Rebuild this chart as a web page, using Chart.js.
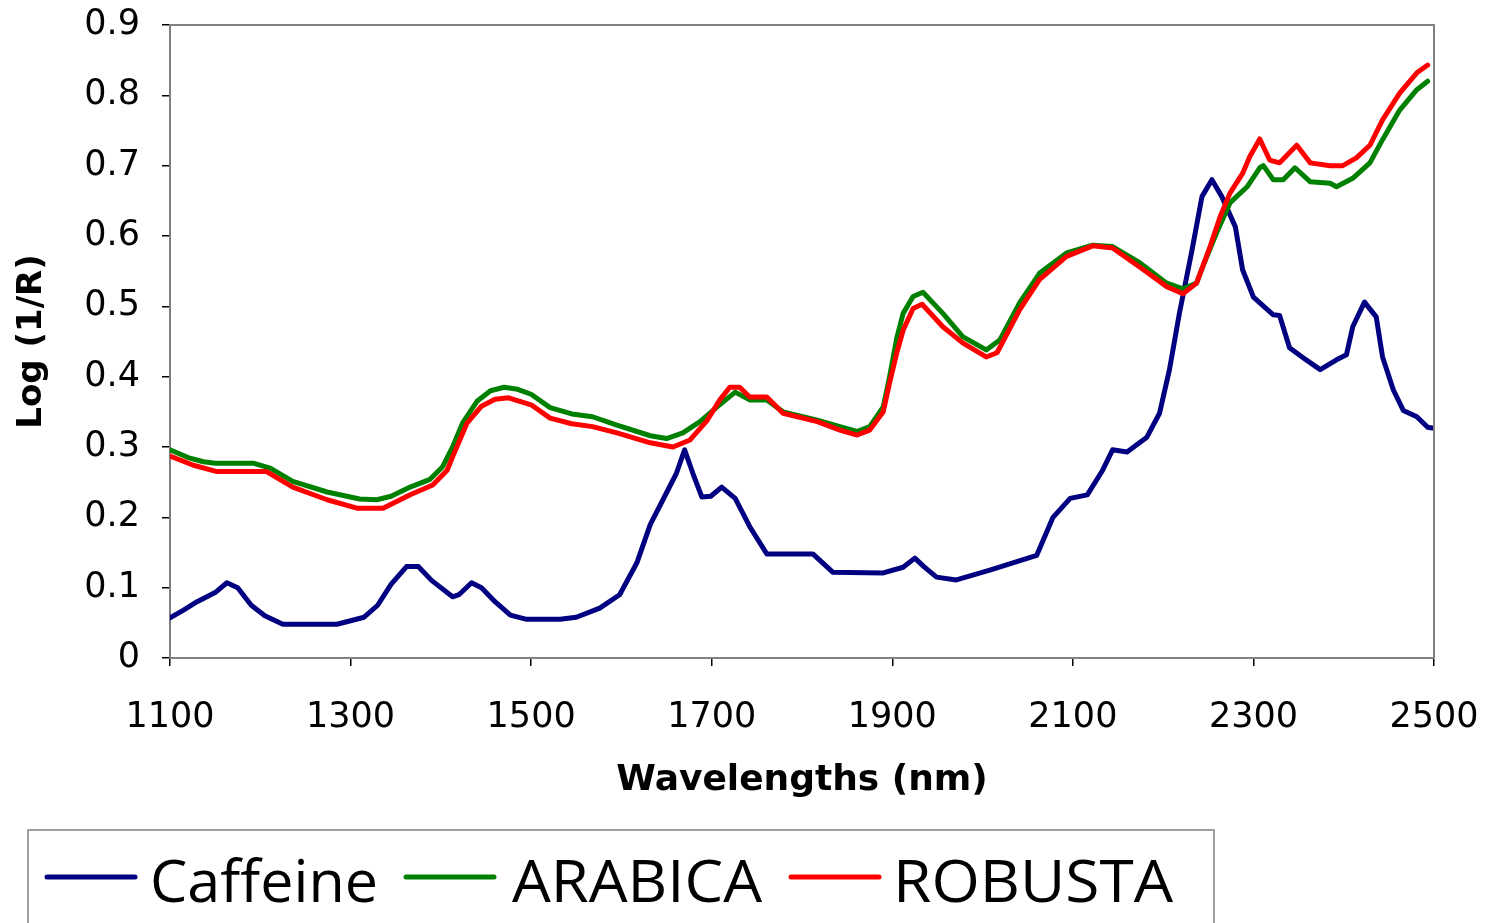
<!DOCTYPE html>
<html>
<head>
<meta charset="utf-8">
<script src="https://cdn.jsdelivr.net/npm/chart.js@4/dist/chart.umd.min.js"></script>
<style>
html,body{margin:0;padding:0;background:#fff;}
#wrap{position:relative;width:1491px;height:923px;}
</style>
</head>
<body>
<div id="wrap"><canvas id="c" width="1491" height="923"></canvas></div>
<script>
// ---- Data ----
const seriesNames = ["Caffeine", "ARABICA", "ROBUSTA"];
const xTickLabels = ["1100","1300","1500","1700","1900","2100","2300","2500"];
const yTickLabels = ["0","0.1","0.2","0.3","0.4","0.5","0.6","0.7","0.8","0.9"];

const caffeineWl = [1100,1115,1130,1150,1163,1175,1190,1205,1225,1285,1300,1315,1330,1345,1362,1375,1390,1413,1420,1434,1445,1460,1477,1495,1532,1550,1576,1598,1617,1632,1646,1661,1670,1679,1689,1699,1711,1726,1742,1761,1812,1834,1890,1912,1925,1935,1949,1971,2008,2038,2060,2078,2097,2116,2133,2144,2160,2182,2196,2207,2218,2232,2243,2254,2265,2280,2288,2300,2322,2329,2340,2355,2374,2392,2403,2410,2423,2436,2443,2455,2466,2481,2493,2498];
const caffeineVal = [0.057,0.068,0.080,0.093,0.107,0.100,0.075,0.060,0.048,0.048,0.053,0.058,0.075,0.105,0.130,0.130,0.110,0.087,0.090,0.107,0.100,0.080,0.061,0.055,0.055,0.058,0.071,0.090,0.135,0.190,0.225,0.263,0.296,0.263,0.229,0.230,0.243,0.227,0.187,0.148,0.148,0.122,0.121,0.129,0.142,0.130,0.115,0.111,0.125,0.137,0.146,0.200,0.227,0.232,0.267,0.296,0.293,0.314,0.348,0.410,0.490,0.580,0.656,0.680,0.656,0.613,0.552,0.513,0.488,0.487,0.441,0.427,0.410,0.424,0.431,0.471,0.506,0.485,0.428,0.381,0.352,0.343,0.328,0.327];

const arabicaWl = [1100,1120,1137,1150,1192,1211,1236,1274,1310,1329,1345,1366,1388,1402,1413,1424,1440,1455,1470,1485,1500,1521,1545,1568,1595,1632,1650,1668,1687,1706,1726,1742,1761,1779,1817,1842,1861,1875,1890,1897,1905,1912,1923,1934,1956,1978,2004,2019,2041,2063,2093,2122,2144,2174,2204,2222,2237,2245,2259,2274,2293,2307,2311,2322,2333,2346,2363,2385,2392,2410,2429,2443,2462,2481,2493];
const arabicaVal = [0.296,0.285,0.279,0.277,0.277,0.270,0.251,0.236,0.226,0.225,0.230,0.243,0.254,0.272,0.300,0.334,0.365,0.380,0.385,0.382,0.375,0.356,0.347,0.343,0.331,0.316,0.312,0.320,0.336,0.357,0.378,0.367,0.367,0.350,0.338,0.329,0.322,0.329,0.357,0.400,0.455,0.490,0.514,0.520,0.490,0.457,0.438,0.452,0.505,0.547,0.576,0.587,0.585,0.562,0.533,0.525,0.533,0.560,0.604,0.647,0.670,0.697,0.700,0.680,0.680,0.697,0.677,0.675,0.670,0.682,0.704,0.737,0.779,0.808,0.820];

const robustaWl = [1100,1126,1152,1207,1236,1274,1307,1336,1366,1391,1407,1413,1429,1445,1460,1475,1500,1521,1545,1568,1595,1632,1657,1676,1695,1709,1720,1731,1742,1761,1779,1817,1842,1861,1875,1890,1897,1905,1912,1923,1933,1956,1978,2004,2016,2041,2063,2093,2122,2144,2174,2204,2222,2237,2252,2263,2274,2288,2296,2307,2318,2329,2348,2363,2385,2399,2414,2429,2443,2462,2481,2493];
const robustaVal = [0.287,0.274,0.265,0.265,0.243,0.225,0.213,0.213,0.232,0.246,0.267,0.286,0.334,0.358,0.368,0.370,0.360,0.341,0.333,0.329,0.320,0.306,0.300,0.310,0.338,0.367,0.385,0.385,0.371,0.371,0.348,0.336,0.324,0.317,0.324,0.350,0.391,0.434,0.466,0.497,0.503,0.471,0.448,0.428,0.434,0.495,0.538,0.571,0.586,0.583,0.556,0.528,0.518,0.533,0.585,0.627,0.661,0.689,0.713,0.738,0.708,0.704,0.729,0.704,0.700,0.700,0.711,0.729,0.765,0.803,0.832,0.843];

const seriesColors = ["#000080", "#008000", "#FF0000"];

const toPts = (wl, v) => wl.map((w, i) => ({x: w, y: v[i]}));

const frameAndLegend = {
  id: 'frameAndLegend',
  afterDatasetsDraw(chart) {
    const {ctx, chartArea: a} = chart;
    ctx.save();
    ctx.strokeStyle = '#808080';
    ctx.lineWidth = 2;
    ctx.beginPath();
    ctx.moveTo(a.left, a.top);
    ctx.lineTo(a.right, a.top);
    ctx.lineTo(a.right, a.bottom);
    ctx.stroke();
    ctx.restore();
  },
  afterDraw(chart) {
    const ctx = chart.ctx;
    ctx.save();
    // legend box
    ctx.strokeStyle = '#808080';
    ctx.lineWidth = 1.5;
    ctx.beginPath();
    ctx.moveTo(28, 925);
    ctx.lineTo(28, 830);
    ctx.lineTo(1214, 830);
    ctx.lineTo(1214, 925);
    ctx.stroke();
    const lineX = [47, 406, 791];
    const textX = [150, 512, 893];
    const textW = [228, 250, 280];
    ctx.font = '58px "Open Sans"';
    ctx.textBaseline = 'alphabetic';
    ctx.fillStyle = '#000';
    for (let i = 0; i < 3; i++) {
      ctx.strokeStyle = seriesColors[i];
      ctx.lineWidth = 5;
      ctx.lineCap = 'round';
      ctx.beginPath();
      ctx.moveTo(lineX[i], 877);
      ctx.lineTo(lineX[i] + 88, 877);
      ctx.stroke();
      const w = ctx.measureText(seriesNames[i]).width;
      ctx.save();
      ctx.translate(textX[i], 902);
      ctx.scale(textW[i] / w, 1);
      ctx.fillText(seriesNames[i], 0, 0);
      ctx.restore();
    }
    ctx.restore();
  }
};

new Chart(document.getElementById('c'), {
  type: 'line',
  data: {
    datasets: [
      {label: seriesNames[0], data: toPts(caffeineWl, caffeineVal), borderColor: seriesColors[0], order: 2},
      {label: seriesNames[1], data: toPts(arabicaWl, arabicaVal), borderColor: seriesColors[1], order: 1},
      {label: seriesNames[2], data: toPts(robustaWl, robustaVal), borderColor: seriesColors[2], order: 0}
    ]
  },
  options: {
    responsive: false,
    animation: false,
    devicePixelRatio: 1,
    elements: {
      line: {borderWidth: 5, tension: 0, borderJoinStyle: 'round', borderCapStyle: 'round'},
      point: {radius: 0}
    },
    layout: {padding: {left: 0, top: 25, right: 57, bottom: 117}},
    plugins: {legend: {display: false}, tooltip: {enabled: false}},
    scales: {
      x: {
        type: 'linear', min: 1100, max: 2500,
        afterBuildTicks: s => { s.ticks = xTickLabels.map(v => ({value: Number(v)})); },
        afterFit: s => { s.height = 148; s.paddingLeft = 0; s.paddingRight = 0; },
        border: {display: true, color: '#808080', width: 2},
        grid: {drawOnChartArea: false, drawTicks: true, tickLength: 8, color: '#000', lineWidth: 1.5},
        ticks: {color: '#000', font: {family: 'DejaVu Sans', size: 35}, padding: 31, maxRotation: 0,
                callback: (v) => String(v)},
        title: {display: true, text: 'Wavelengths (nm)', color: '#000',
                font: {family: 'DejaVu Sans', size: 36, weight: 'bold'}, padding: {top: 13, bottom: 4}}
      },
      y: {
        type: 'linear', min: 0, max: 0.9,
        afterBuildTicks: s => { s.ticks = yTickLabels.map(v => ({value: Number(v)})); },
        afterFit: s => { s.width = 170; s.paddingTop = 0; s.paddingBottom = 0; },
        border: {display: true, color: '#808080', width: 2},
        grid: {drawOnChartArea: false, drawTicks: true, tickLength: 8, color: '#000', lineWidth: 1.5},
        ticks: {color: '#000', font: {family: 'DejaVu Sans', size: 35}, padding: 22,
                callback: (v) => yTickLabels.find(t => Number(t) === Math.round(v * 10) / 10) ?? String(v)},
        title: {display: true, text: 'Log (1/R)', color: '#000',
                font: {family: 'DejaVu Sans', size: 34, weight: 'bold'}, padding: {top: 12, bottom: 0}}
      }
    }
  },
  plugins: [frameAndLegend]
});
</script>
</body>
</html>
